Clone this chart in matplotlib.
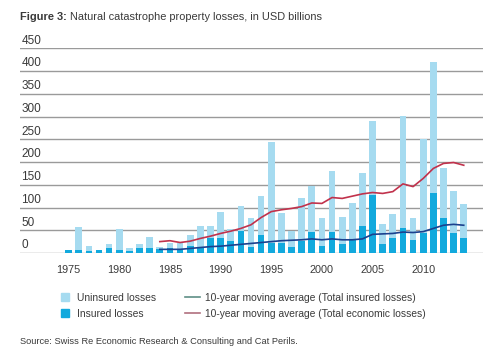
import numpy as np
import matplotlib
matplotlib.use('Agg')
import matplotlib.pyplot as plt
from matplotlib.lines import Line2D

plt.rcParams['font.family'] = ['Liberation Sans', 'DejaVu Sans']

years = list(range(1975, 2015))
insured = [6, 6, 5, 7, 12, 6, 5, 12, 12, 9,
           10, 9, 16, 13, 32, 32, 26, 49, 14, 39,
           22, 21, 14, 27, 47, 15, 47, 20, 28, 59,
           127, 20, 32, 54, 29, 45, 131, 78, 43, 34]
uninsured = [1, 52, 11, 0, 7, 47, 5, 8, 23, 5,
             13, 12, 23, 46, 27, 59, 26, 54, 63, 86,
             222, 66, 34, 94, 100, 63, 134, 60, 83, 117,
             164, 44, 54, 248, 49, 205, 290, 109, 93, 74]
ma_years = list(range(1984, 2015))
ma_insured = [8, 8, 8, 10, 12, 14, 15, 17, 19, 21,
              23, 25, 27, 28, 29, 31, 29, 31, 29, 29,
              31, 41, 42, 43, 46, 45, 47, 54, 61, 63, 61]
ma_total = [25, 27, 23, 26, 32, 37, 43, 48, 54, 62,
            78, 91, 95, 98, 102, 110, 109, 122, 120, 125,
            130, 133, 131, 135, 152, 146, 164, 186, 197, 199, 193]
yticks = [0, 50, 100, 150, 200, 250, 300, 350, 400, 450]
xticks = [1975, 1980, 1985, 1990, 1995, 2000, 2005, 2010]

c_light = '#a6dbf0'
c_dark = '#12a9dd'
c_red = '#c1324c'
c_blue = '#1c418e'
txt = '#3a3a3a'

fig = plt.figure(figsize=(5, 3.64), dpi=100)
ax = fig.add_axes([0.04, 0.305, 0.926, 0.562])

ax.bar(years, insured, width=0.66, color=c_dark, zorder=2)
ax.bar(years, uninsured, width=0.66, bottom=insured, color=c_light, zorder=2)
ax.plot(ma_years, ma_insured, color=c_blue, lw=1.2, zorder=3)
ax.plot(ma_years, ma_total, color=c_red, lw=1.2, zorder=3)

ax.set_xlim(1970.2, 2015.9)
ax.set_ylim(0, 450)
ax.set_yticks(yticks)
ax.set_yticklabels([])
ax.tick_params(axis='y', length=0)
ax.grid(axis='y', color='#9a9a9a', lw=1, zorder=0)
for v in yticks:
    ax.text(1970.35, v + 17, str(v), fontsize=8.5, color=txt, va='center', ha='left')

ax.set_xticks(xticks)
ax.tick_params(axis='x', length=0, pad=9, labelsize=7.8, labelcolor=txt)
for s in ax.spines.values():
    s.set_visible(False)

# title: bold label, then normal text right after it
t1 = fig.text(0.04, 0.954, 'Figure 3:', fontsize=7.9, fontweight='bold', color=txt, va='center')
ax.annotate(' Natural catastrophe property losses, in USD billions', xy=(1, 0.5),
            xycoords=t1, va='center', ha='left', fontsize=7.9, color=txt,
            annotation_clip=False)

handles = [
    Line2D([], [], ls='none', marker='s', ms=5.5, color=c_light),
    Line2D([], [], ls='none', marker='s', ms=5.5, color=c_dark),
    Line2D([], [], color='#5f8f86', lw=1.2),
    Line2D([], [], color='#b0707e', lw=1.2),
]
labels = ['Uninsured losses', 'Insured losses',
          '10-year moving average (Total insured losses)',
          '10-year moving average (Total economic losses)']
fig.legend(handles, labels, ncol=2, loc='center left', bbox_to_anchor=(0.096, 0.16),
           frameon=False, fontsize=7.4, handlelength=1.5, handletextpad=0.45,
           columnspacing=2.75, labelspacing=0.55, labelcolor=txt)

fig.text(0.04, 0.063, 'Source: Swiss Re Economic Research & Consulting and Cat Perils.',
         fontsize=6.7, color=txt, va='center')

fig.savefig('out.png', dpi=100)
